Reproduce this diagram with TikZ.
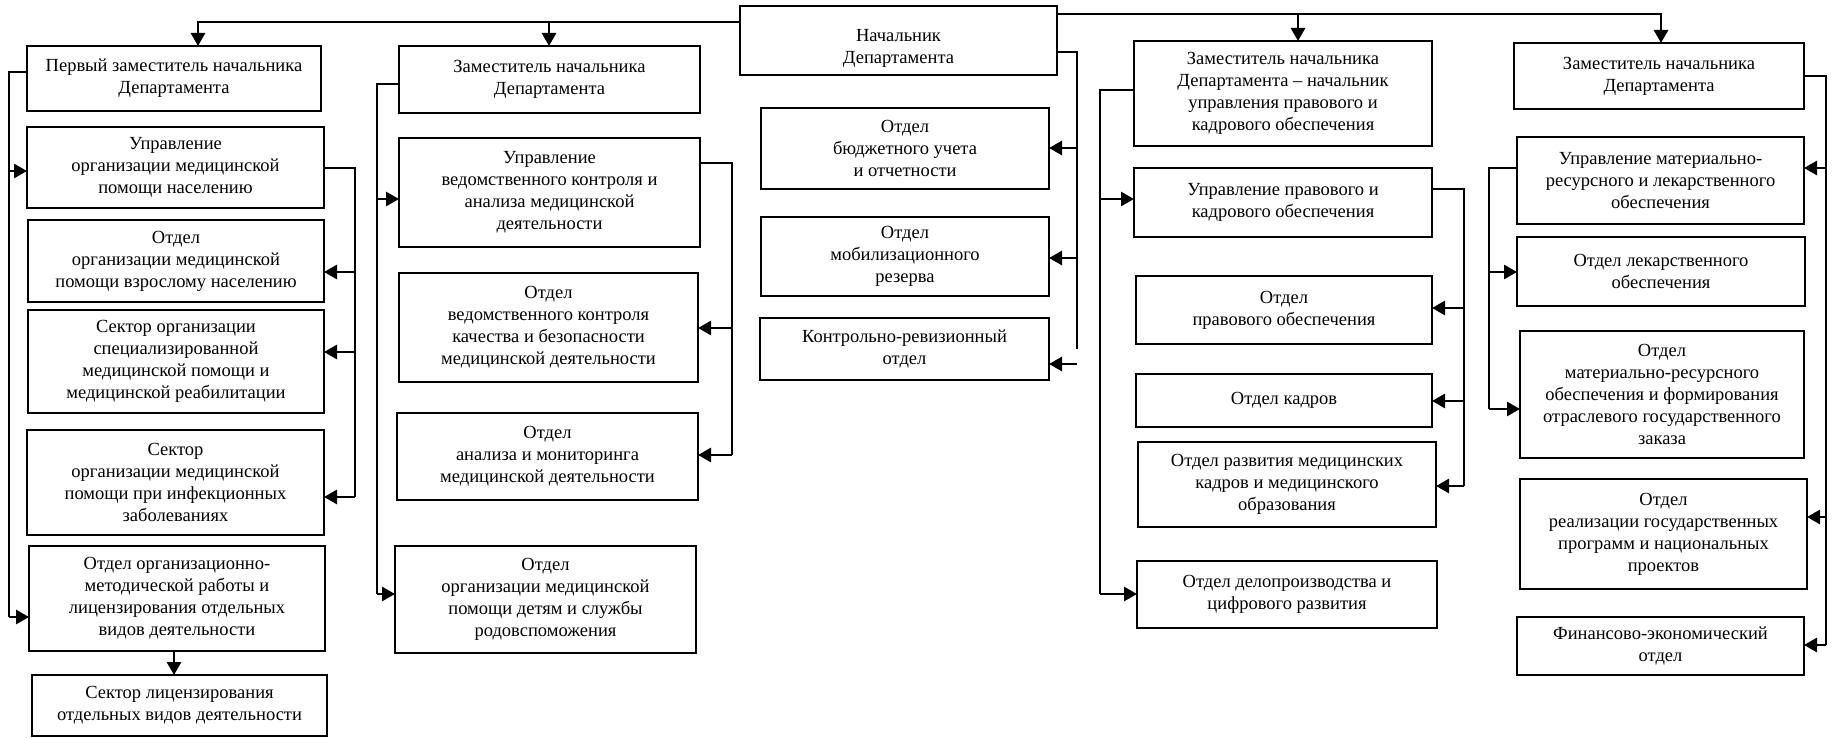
\documentclass[tikz,border=0pt]{standalone}
\usepackage{fontspec}
\setmainfont{Liberation Serif}
\usetikzlibrary{arrows.meta}
\tikzset{
  box/.style={draw, line width=1.4pt, inner sep=0pt, outer sep=0pt, align=center,
    font=\fontsize{18.5}{22}\selectfont},
  conn/.style={line width=2.8pt},
  arr/.style={conn, -{Triangle[length=13pt,width=14pt]}}
}
\newcommand\bx[6]{\node[box, minimum width={#4-#2}, minimum height={#5-#3}] (#1) at ({(#2+#4)/2},{-(#3+#5)/2}) {#6};}
\begin{document}
\begin{tikzpicture}[x=1pt,y=1pt]
\useasboundingbox (0,0) rectangle (1838,-738);
% column A
\bx{A1}{27}{46}{321}{111}{Первый заместитель начальника\\Департамента}
\bx{A2}{27}{127}{324}{208}{Управление\\организации медицинской\\помощи населению}
\bx{A3}{28}{220}{324}{302}{Отдел\\организации медицинской\\помощи взрослому населению}
\bx{A4}{28}{310}{324}{413}{Сектор организации\\специализированной\\медицинской помощи и\\медицинской реабилитации}
\bx{A5}{27}{430}{324}{535}{Сектор\\организации медицинской\\помощи при инфекционных\\заболеваниях}
\bx{A6}{29}{546}{325}{651}{Отдел организационно-\\методической работы и\\лицензирования отдельных\\видов деятельности}
\bx{A7}{32}{675}{327}{736}{Сектор лицензирования\\отдельных видов деятельности}
% column B
\bx{B1}{399}{46}{700}{113}{Заместитель начальника\\Департамента}
\bx{B2}{399}{138}{700}{247}{Управление\\ведомственного контроля и\\анализа медицинской\\деятельности}
\bx{B3}{399}{273}{698}{382}{Отдел\\ведомственного контроля\\качества и безопасности\\медицинской деятельности}
\bx{B4}{397}{413}{698}{500}{Отдел\\анализа и мониторинга\\медицинской деятельности}
\bx{B5}{395}{546}{696}{653}{Отдел\\организации медицинской\\помощи детям и службы\\родовспоможения}
% column C
\bx{C0}{740}{6}{1057}{75}{\raisebox{-8pt}[\height][\depth]{\begin{tabular}{@{}c@{}}Начальник\\Департамента\end{tabular}}}
\bx{C1}{761}{108}{1049}{189}{Отдел\\бюджетного учета\\и отчетности}
\bx{C2}{761}{217}{1049}{296}{Отдел\\мобилизационного\\резерва}
\bx{C3}{760}{318}{1049}{380}{Контрольно-ревизионный\\отдел}
% column D
\bx{D0}{1134}{41}{1432}{146}{Заместитель начальника\\Департамента – начальник\\управления правового и\\кадрового обеспечения}
\bx{D1}{1134}{168}{1432}{237}{Управление правового и\\кадрового обеспечения}
\bx{D2}{1136}{276}{1432}{344}{Отдел\\правового обеспечения}
\bx{D3}{1136}{374}{1432}{427}{Отдел кадров}
\bx{D4}{1138}{442}{1436}{527}{Отдел развития медицинских\\кадров и медицинского\\образования}
\bx{D5}{1137}{561}{1437}{628}{Отдел делопроизводства и\\цифрового развития}
% column E
\bx{E0}{1514}{43}{1804}{109}{Заместитель начальника\\Департамента}
\bx{E1}{1517}{137}{1804}{224}{Управление материально-\\ресурсного и лекарственного\\обеспечения}
\bx{E2}{1517}{237}{1805}{306}{Отдел лекарственного\\обеспечения}
\bx{E3}{1520}{331}{1804}{458}{Отдел\\материально-ресурсного\\обеспечения и формирования\\отраслевого государственного\\заказа}
\bx{E4}{1520}{479}{1807}{589}{Отдел\\реализации государственных\\программ и национальных\\проектов}
\bx{E5}{1517}{617}{1804}{675}{Финансово-экономический\\отдел}
% top connectors
\coordinate (topL) at (C0.west |- 0,-22);
\coordinate (topR) at (C0.east |- 0,-14);
\draw[arr] (topL) -| (A1.north -| 198,0);
\draw[arr] (topL -| 549,0) -- (B1.north -| 549,0);
\draw[arr] (topR) -| (E0.north -| 1661,0);
\draw[arr] (topR -| 1298,0) -- (D0.north -| 1298,0);
% chief's own departments
\coordinate (cR) at (1077,-52);
\draw[conn] (C0.east |- cR) -- (cR) -- (cR |- C3.east);
\draw[arr] (cR |- 0,-148) -- (C1.east |- 0,-148);
\draw[arr] (cR |- 0,-258) -- (C2.east |- 0,-258);
\draw[arr] (cR |- 0,-364) -- (C3.east |- 0,-364);
% column A
\coordinate (aL) at (9,-72);
\draw[conn] (A1.west |- aL) -- (aL) -- (aL |- 0,-617);
\draw[arr] (aL |- 0,-171) -- (A2.west |- 0,-171);
\draw[arr] (aL |- 0,-617) -- (A6.west |- 0,-617);
\coordinate (aR) at (355,-168);
\draw[conn] (A2.east |- aR) -- (aR) -- (aR |- 0,-497);
\draw[arr] (aR |- 0,-272) -- (A3.east |- 0,-272);
\draw[arr] (aR |- 0,-352) -- (A4.east |- 0,-352);
\draw[arr] (aR |- 0,-497) -- (A5.east |- 0,-497);
\draw[arr] (A6.south -| 174,0) -- (A7.north -| 174,0);
% column B
\coordinate (bL) at (377,-84);
\draw[conn] (B1.west |- bL) -- (bL) -- (bL |- 0,-594);
\draw[arr] (bL |- 0,-199) -- (B2.west |- 0,-199);
\draw[arr] (bL |- 0,-594) -- (B5.west |- 0,-594);
\coordinate (bR) at (732,-163);
\draw[conn] (B2.east |- bR) -- (bR) -- (bR |- 0,-455);
\draw[arr] (bR |- 0,-328) -- (B3.east |- 0,-328);
\draw[arr] (bR |- 0,-455) -- (B4.east |- 0,-455);
% column D
\coordinate (dL) at (1100,-90);
\draw[conn] (D0.west |- dL) -- (dL) -- (dL |- 0,-594);
\draw[arr] (dL |- 0,-199) -- (D1.west |- 0,-199);
\draw[arr] (dL |- 0,-594) -- (D5.west |- 0,-594);
\coordinate (dR) at (1464,-189);
\draw[conn] (D1.east |- dR) -- (dR) -- (dR |- 0,-486);
\draw[arr] (dR |- 0,-308) -- (D2.east |- 0,-308);
\draw[arr] (dR |- 0,-401) -- (D3.east |- 0,-401);
\draw[arr] (dR |- 0,-486) -- (D4.east |- 0,-486);
% column E
\coordinate (eR) at (1826,-76);
\draw[conn] (E0.east |- eR) -- (eR) -- (eR |- 0,-645);
\draw[arr] (eR |- 0,-168) -- (E1.east |- 0,-168);
\draw[arr] (eR |- 0,-517) -- (E4.east |- 0,-517);
\draw[arr] (eR |- 0,-645) -- (E5.east |- 0,-645);
\coordinate (eL) at (1489,-168);
\draw[conn] (E1.west |- eL) -- (eL) -- (eL |- 0,-409);
\draw[arr] (eL |- 0,-272) -- (E2.west |- 0,-272);
\draw[arr] (eL |- 0,-409) -- (E3.west |- 0,-409);
\end{tikzpicture}
\end{document}
